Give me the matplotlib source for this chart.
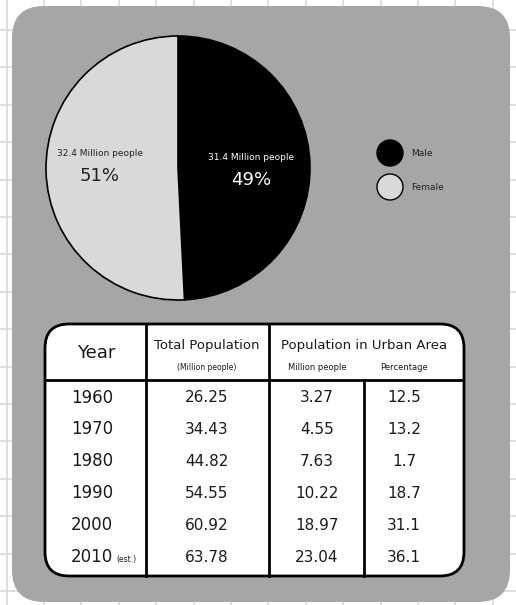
import matplotlib
matplotlib.use("Agg")
import matplotlib.pyplot as plt
from matplotlib.patches import FancyBboxPatch, Circle

# ---- data ----
pie_labels = ["Male", "Female"]
pie_values = [31.4, 32.4]
pie_pct = ["49%", "51%"]
pie_colors = ["#000000", "#d9d9d9"]

years = ["1960", "1970", "1980", "1990", "2000", "2010"]
total_pop = ["26.25", "34.43", "44.82", "54.55", "60.92", "63.78"]
urban_pop = ["3.27", "4.55", "7.63", "10.22", "18.97", "23.04"]
urban_pct = ["12.5", "13.2", "1.7", "18.7", "31.1", "36.1"]

W, H = 516, 605
fig = plt.figure(figsize=(W / 100, H / 100), dpi=100)
fig.patch.set_facecolor("white")
ax = fig.add_axes([0, 0, 1, 1])
ax.set_xlim(0, W)
ax.set_ylim(0, H)
ax.axis("off")

def Y(y):
    return H - y

# grid background
step = 37.4
x = 44.0 - step
while x < W:
    ax.plot([x, x], [0, H], color="#d9d9d9", lw=1.2, zorder=0)
    x += step
y = 30.0 - step
while y < H:
    ax.plot([0, W], [Y(y), Y(y)], color="#d9d9d9", lw=1.2, zorder=0)
    y += step

# grey panel
rp = 32
panel = FancyBboxPatch((12 + rp, Y(602) + rp), 498 - 2 * rp, 596 - 2 * rp,
                       boxstyle=f"round,pad={rp}", fc="#a6a6a6", ec="none", zorder=1)
ax.add_patch(panel)

# pie
wedges, _ = ax.pie(pie_values, colors=pie_colors, startangle=90, counterclock=False,
                   center=(178, Y(168)), radius=132, frame=True,
                   wedgeprops=dict(edgecolor="black", linewidth=1.2))
for w in wedges:
    w.set_zorder(2)
ax.set_xlim(0, W)
ax.set_ylim(0, H)
ax.axis("off")

ax.text(100, Y(153), f"{pie_values[1]} Million people", ha="center", va="center",
        fontsize=6.5, color="#222222", zorder=3)
ax.text(100, Y(176), pie_pct[1], ha="center", va="center", fontsize=13,
        color="#222222", zorder=3)
ax.text(251, Y(157), f"{pie_values[0]} Million people", ha="center", va="center",
        fontsize=6.5, color="white", zorder=3)
ax.text(251, Y(180), pie_pct[0], ha="center", va="center", fontsize=13,
        color="white", zorder=3)

# legend
for i, (lab, col) in enumerate(zip(pie_labels, pie_colors)):
    cy = Y(153 + i * 34)
    ax.add_patch(Circle((390, cy), 13, fc=col, ec="black", lw=1.0, zorder=3))
    ax.text(411, cy, lab, ha="left", va="center", fontsize=6.5, color="#222222", zorder=3)

# table
tx0, tx1 = 45, 464
ty0, ty1 = 324, 576
r = 24
tbl = FancyBboxPatch((tx0 + r, Y(ty1) + r), (tx1 - tx0) - 2 * r, (ty1 - ty0) - 2 * r,
                     boxstyle=f"round,pad={r}", fc="white", ec="black", lw=2.0, zorder=3)
ax.add_patch(tbl)
hdr = 380
ax.plot([tx0 + 1, tx1 - 1], [Y(hdr), Y(hdr)], color="black", lw=2.0, zorder=4)
ax.plot([146, 146], [Y(ty0), Y(ty1)], color="black", lw=2.0, zorder=4)
ax.plot([269, 269], [Y(ty0), Y(ty1)], color="black", lw=2.0, zorder=4)
ax.plot([364, 364], [Y(hdr), Y(ty1)], color="black", lw=2.0, zorder=4)

tc = "#1a1a1a"
ax.text(96, Y(353), "Year", ha="center", va="center", fontsize=13, color=tc, zorder=5)
ax.text(207, Y(346), "Total Population", ha="center", va="center", fontsize=9.5, color=tc, zorder=5)
ax.text(207, Y(368), "(Million people)", ha="center", va="center", fontsize=5.5, color=tc, zorder=5)
ax.text(364, Y(346), "Population in Urban Area", ha="center", va="center", fontsize=9.5, color=tc, zorder=5)
ax.text(317, Y(368), "Million people", ha="center", va="center", fontsize=6, color=tc, zorder=5)
ax.text(404, Y(368), "Percentage", ha="center", va="center", fontsize=6, color=tc, zorder=5)

row_y = [398, 429, 461, 493, 525, 557]
for i in range(len(years)):
    yy = Y(row_y[i])
    yt = ax.text(71, yy, years[i], ha="left", va="center", fontsize=12, color=tc, zorder=5)
    if i == len(years) - 1:
        ax.annotate("(est.)", xy=(1, 0.35), xycoords=yt, xytext=(2, 0),
                    textcoords="offset points", ha="left", va="center",
                    fontsize=5.5, color=tc, zorder=5)
    ax.text(207, yy, total_pop[i], ha="center", va="center", fontsize=11, color=tc, zorder=5)
    ax.text(317, yy, urban_pop[i], ha="center", va="center", fontsize=11, color=tc, zorder=5)
    ax.text(404, yy, urban_pct[i], ha="center", va="center", fontsize=11, color=tc, zorder=5)

fig.savefig("out.png", dpi=100, facecolor=fig.get_facecolor())
